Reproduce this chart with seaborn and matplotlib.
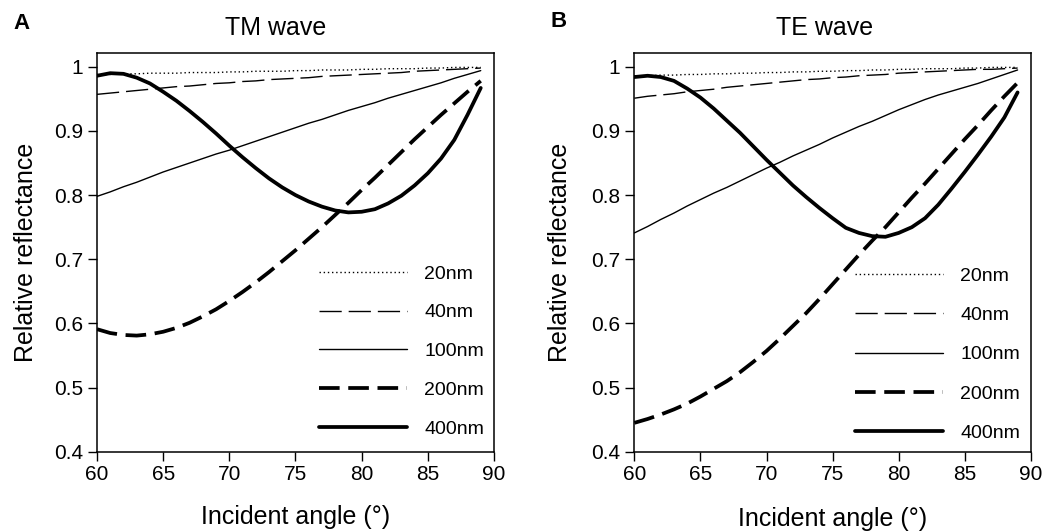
import pandas as pd
import seaborn as sns
import matplotlib.pyplot as plt

# incident angle grid (degrees) and film thicknesses
angles = list(range(60, 90))
thickness = ['20nm', '40nm', '100nm', '200nm', '400nm']

# TM wave, relative reflectance
tm_20 = [.988, .988, .989, .989, .990, .990, .990, .991, .991, .991,
         .992, .992, .993, .993, .993, .994, .994, .995, .995, .995,
         .996, .996, .997, .997, .997, .998, .998, .999, .999, .999]
tm_40 = [.957, .959, .961, .963, .965, .967, .969, .970, .972, .974,
         .975, .977, .978, .980, .981, .982, .983, .985, .986, .987,
         .988, .989, .990, .991, .993, .994, .995, .996, .997, .998]
tm_100 = [.798, .805, .813, .820, .828, .836, .843, .850, .857, .864,
          .870, .877, .884, .891, .898, .905, .912, .918, .925, .932,
          .938, .944, .951, .957, .963, .969, .975, .982, .988, .994]
tm_200 = [.591, .585, .582, .581, .583, .587, .593, .601, .611, .622,
          .635, .649, .664, .680, .697, .714, .732, .750, .769, .788,
          .808, .827, .847, .867, .887, .906, .925, .943, .961, .978]
tm_400 = [.986, .990, .989, .983, .974, .961, .947, .931, .914, .896,
          .877, .859, .842, .826, .812, .800, .790, .782, .776, .773,
          .774, .778, .787, .799, .815, .834, .857, .886, .925, .967]

# TE wave
te_20 = [.986, .986, .987, .987, .988, .988, .989, .989, .990, .990,
         .991, .991, .992, .992, .993, .993, .994, .994, .995, .995,
         .996, .996, .997, .997, .997, .998, .998, .999, .999, .999]
te_40 = [.951, .954, .956, .958, .961, .963, .965, .968, .970, .972,
         .974, .976, .978, .980, .981, .983, .984, .986, .987, .988,
         .990, .991, .992, .993, .994, .995, .996, .996, .997, .998]
te_100 = [.741, .751, .762, .772, .783, .793, .803, .812, .822, .832,
          .842, .851, .861, .870, .879, .889, .898, .907, .915, .924,
          .933, .941, .949, .956, .962, .968, .974, .981, .988, .995]
te_200 = [.445, .451, .458, .466, .475, .486, .498, .510, .524, .540,
          .557, .576, .596, .616, .638, .661, .684, .707, .729, .750,
          .773, .796, .818, .841, .864, .887, .909, .932, .954, .975]
te_400 = [.984, .986, .984, .978, .966, .952, .935, .916, .897, .876,
          .855, .835, .815, .797, .780, .764, .749, .741, .736, .735,
          .741, .750, .764, .785, .810, .836, .863, .891, .921, .960]

yticks = [0.4, 0.5, 0.6, 0.7, 0.8, 0.9, 1.0]
ytick_labels = ['0.4', '0.5', '0.6', '0.7', '0.8', '0.9', '1']
xticks = [60, 65, 70, 75, 80, 85, 90]


def make_frame(series):
    rows = []
    for name, vals in zip(thickness, series):
        for a, v in zip(angles, vals):
            rows.append({'angle': a, 'reflectance': v, 'thickness': name})
    return pd.DataFrame(rows)


tm = make_frame([tm_20, tm_40, tm_100, tm_200, tm_400])
te = make_frame([te_20, te_40, te_100, te_200, te_400])

sns.set_style('ticks')
plt.rcParams['font.family'] = ['Liberation Sans', 'DejaVu Sans']
plt.rcParams.update({'text.color': 'black', 'axes.labelcolor': 'black',
                     'xtick.color': 'black', 'ytick.color': 'black',
                     'axes.edgecolor': 'black'})

colors = {t: 'black' for t in thickness}
widths = {'20nm': 1.0, '40nm': 1.0, '100nm': 1.0, '200nm': 2.7, '400nm': 2.7}
dash_map = {'20nm': (1, 2), '40nm': (16, 5), '100nm': '',
            '200nm': (5.5, 2.3), '400nm': ''}

fig = plt.figure(figsize=(10.43, 5.32), dpi=100)
ax1 = fig.add_axes([0.0930, 0.1509, 0.3806, 0.7494])
ax2 = fig.add_axes([0.6082, 0.1509, 0.3801, 0.7494])

for ax, df in [(ax1, tm), (ax2, te)]:
    sns.lineplot(data=df, x='angle', y='reflectance',
                 hue='thickness', size='thickness', style='thickness',
                 hue_order=thickness, size_order=thickness, style_order=thickness,
                 palette=colors, sizes=widths, dashes=dash_map,
                 estimator=None, sort=False, legend='full', ax=ax)
    ax.set_xlim(60, 90)
    ax.set_ylim(0.4, 1.0214)
    ax.set_xticks(xticks)
    ax.set_yticks(yticks, labels=ytick_labels)
    ax.tick_params(axis='both', labelsize=15, length=6.5, width=1.0,
                   direction='out', color='black', labelcolor='black',
                   top=False, right=False)
    ax.tick_params(axis='y', pad=3.5)
    ax.tick_params(axis='x', pad=3)
    for s in ax.spines.values():
        s.set_color('black')
        s.set_linewidth(1.1)
    ax.set_xlabel('Incident angle (°)', fontsize=18)
    ax.set_ylabel('Relative reflectance', fontsize=18)

ax1.yaxis.set_label_coords(-0.149, 0.5)
ax2.yaxis.set_label_coords(-0.157, 0.5)
ax1.xaxis.set_label_coords(0.5, -0.133)
ax2.xaxis.set_label_coords(0.5, -0.139)

sns.move_legend(ax1, 'lower right', bbox_to_anchor=(0.975, 0.035),
                frameon=False, title=None, fontsize=14, handlelength=4.5,
                handletextpad=0.9, labelspacing=1.09, borderpad=0,
                borderaxespad=0)
sns.move_legend(ax2, 'lower right', bbox_to_anchor=(0.973, 0.025),
                frameon=False, title=None, fontsize=14, handlelength=4.5,
                handletextpad=0.9, labelspacing=1.11, borderpad=0,
                borderaxespad=0)

fig.text(276 / 1043, 1 - 35 / 532, 'TM wave', ha='center', va='baseline', fontsize=18)
fig.text(825 / 1043, 1 - 35 / 532, 'TE wave', ha='center', va='baseline', fontsize=18)
fig.text(13 / 1043, 1 - 29 / 532, 'A', ha='left', va='baseline', fontsize=16, weight='bold')
fig.text(550 / 1043, 1 - 27 / 532, 'B', ha='left', va='baseline', fontsize=16, weight='bold')

fig.savefig('out.png', dpi=100)
